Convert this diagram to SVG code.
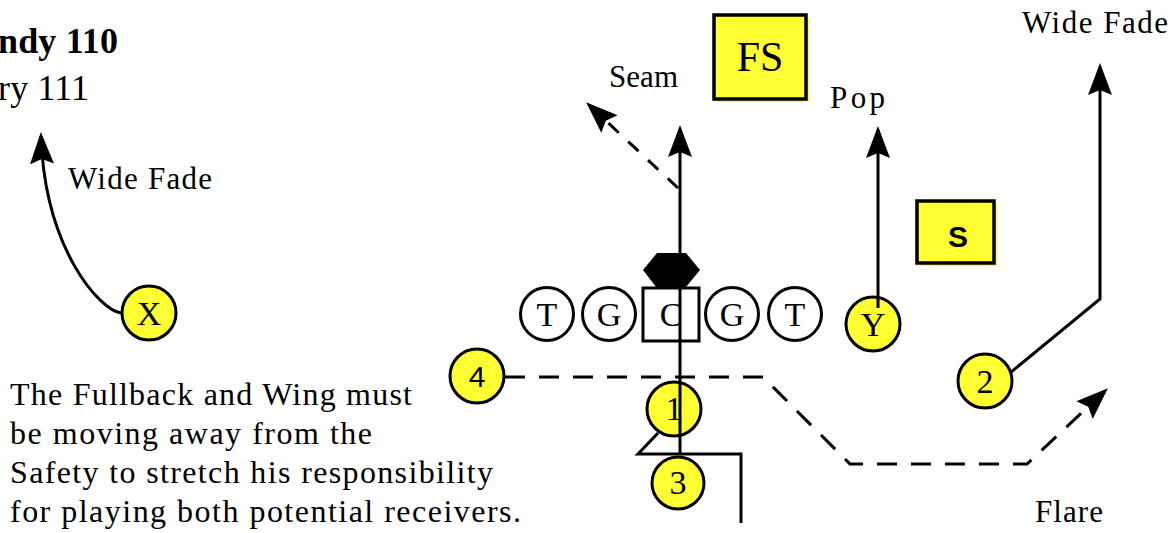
<svg xmlns="http://www.w3.org/2000/svg" width="1175" height="533" viewBox="0 0 1175 533">
<style>
.bg{fill:#ffffff}
.t{font-family:"Liberation Serif","Times New Roman",serif;fill:#000}
.lbl{font-size:31px}
.ltr{font-size:34px;text-anchor:middle}
.yc{fill:#ffff33;stroke:#000;stroke-width:3}
.wc{fill:#fff;stroke:#000;stroke-width:3}
.ybox{fill:#ffff33;stroke:#000;stroke-width:3.5}
.ysh{fill:#ffff33}
.ln{fill:none;stroke:#000;stroke-width:3}
.dash{stroke-dasharray:20 14}
.dsh2{stroke-dasharray:14 13}
</style>
<defs>
<marker id="ah" viewBox="0 0 32 24" refX="28" refY="12" markerWidth="32" markerHeight="24" markerUnits="userSpaceOnUse" orient="auto">
<path d="M0,0 L32,12 L0,24 L5,12 Z" fill="#000" stroke="none"/>
</marker>
</defs>
<rect class="bg" x="0" y="0" width="1175" height="533"/>

<g id="title">
<text class="t" x="-2" y="53" font-size="36" font-weight="bold" textLength="120">ndy 110</text>
<text class="t" x="-2" y="100" font-size="36" textLength="91">ry 111</text>
</g>

<g id="labels">
<text class="t lbl" x="609" y="87" textLength="69">Seam</text>
<text class="t lbl" x="830" y="108" textLength="55">Pop</text>
<text class="t lbl" x="1022" y="33" textLength="146">Wide Fade</text>
<text class="t lbl" x="68" y="189" textLength="144">Wide Fade</text>
<text class="t lbl" x="1035" y="522" textLength="68">Flare</text>
</g>

<g id="note">
<text class="t" font-size="32" x="10" y="405" textLength="402">The Fullback and Wing must</text>
<text class="t" font-size="32" x="10" y="444" textLength="362">be moving away from the</text>
<text class="t" font-size="32" x="10" y="483" textLength="483">Safety to stretch his responsibility</text>
<text class="t" font-size="32" x="10" y="522" textLength="511">for playing both potential receivers.</text>
</g>

<g id="FS">
<rect class="ysh" x="717" y="18" width="92" height="84"/>
<rect class="ybox" x="714" y="15" width="92" height="84"/>
<text class="t" x="760" y="71" font-size="42" text-anchor="middle">FS</text>
</g>

<g id="S">
<rect class="ysh" x="920" y="204" width="77" height="62"/>
<rect class="ybox" x="917" y="201" width="77" height="62"/>
<text x="958" y="247" font-family="Liberation Sans,Arial,sans-serif" font-weight="bold" font-size="30" text-anchor="middle">S</text>
</g>

<g id="LT">
<circle class="wc" cx="547" cy="314" r="26.5"/>
<text class="t ltr" x="547" y="326">T</text>
</g>
<g id="LG">
<circle class="wc" cx="609" cy="314" r="26.5"/>
<text class="t ltr" x="609" y="326">G</text>
</g>
<g id="C">
<rect class="wc" x="643" y="288" width="56" height="53"/>
<text class="t ltr" x="671" y="326">C</text>
</g>
<g id="RG">
<circle class="wc" cx="732" cy="314" r="26.5"/>
<text class="t ltr" x="732" y="326">G</text>
</g>
<g id="RT">
<circle class="wc" cx="795" cy="314" r="26.5"/>
<text class="t ltr" x="795" y="326">T</text>
</g>
<g id="Y">
<circle class="yc" cx="873" cy="324" r="27"/>
<text class="t ltr" x="873" y="336">Y</text>
</g>
<g id="X">
<circle class="yc" cx="149" cy="313" r="27"/>
<text class="t ltr" x="149" y="325">X</text>
</g>
<g id="P1">
<circle class="yc" cx="674" cy="409" r="27"/>
<text class="t ltr" x="674" y="420">1</text>
</g>
<g id="P3">
<circle class="yc" cx="678" cy="483" r="26"/>
<text class="t ltr" x="678" y="494">3</text>
</g>
<g id="P4">
<circle class="yc" cx="477" cy="376" r="27"/>
<text x="477" y="387" font-family="Liberation Sans,Arial,sans-serif" font-size="30" text-anchor="middle">4</text>
</g>
<g id="P2">
<circle class="yc" cx="985" cy="381" r="27"/>
<text class="t ltr" x="985" y="393">2</text>
</g>

<g id="ball">
<polygon points="657,253 686,253 700,270 686,287 656,287 643,270" fill="#000"/>
</g>

<g id="connectors">
<path class="ln" d="M680,454 L680,129" marker-end="url(#ah)"/>
<path class="ln dsh2" d="M678,188 L589,105" marker-end="url(#ah)"/>
<path class="ln" d="M878,308 L878,130" marker-end="url(#ah)"/>
<path class="ln" d="M1010,373 L1100,299 L1100,67" marker-end="url(#ah)"/>
<path class="ln" d="M121,313 C100,310 45,250 41,136" marker-end="url(#ah)"/>
<path class="ln dash" d="M505,377 L763,377 L850,464 L1027,464 L1105,391" marker-end="url(#ah)"/>
<path class="ln" d="M658,433 L638,454 L741,454 L741,523"/>
</g>
</svg>
